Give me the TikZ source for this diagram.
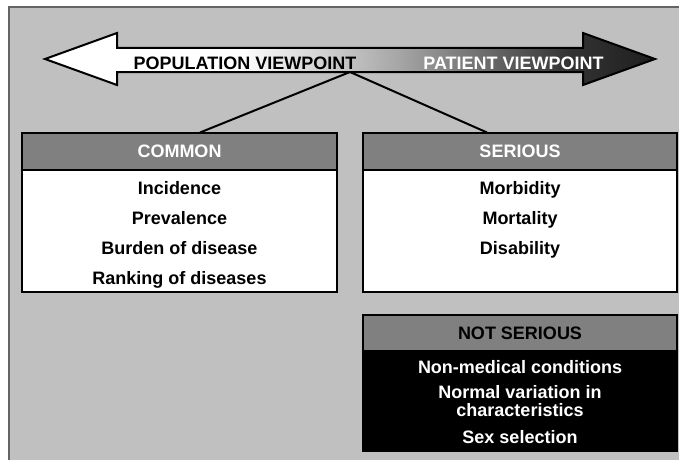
\documentclass[tikz,border=0pt]{standalone}
\usepackage{fontspec}
\setmainfont{Liberation Sans}
\definecolor{FrameGray}{RGB}{192,192,192}
\definecolor{EdgeGray}{RGB}{100,100,100}
\definecolor{HdrGray}{RGB}{128,128,128}
\usetikzlibrary{
    positioning,
    calc,
}
\pgfdeclarehorizontalshading{viewshade}{100bp}{color(0bp)=(white); color(25bp)=(white); color(41bp)=(white); color(54bp)=(black!35); color(68bp)=(black!80); color(75bp)=(black!88); color(100bp)=(black!88)}
\tikzset{
    hdr/.style={draw, line width=2pt, fill=HdrGray, minimum height=37pt, inner sep=0pt, outer sep=0pt, font=\fontsize{18}{18}\selectfont\bfseries},
    bodybox/.style={draw, line width=2pt, inner sep=0pt, outer sep=0pt},
    item/.style={anchor=base, inner sep=0pt, font=\fontsize{18}{18}\selectfont\bfseries, align=center},
    link/.style={line width=2pt},
}

\begin{document}
\begin{tikzpicture}[x=1pt, y=-1pt]
        \useasboundingbox (0,0) rectangle (679,460);
        % frame
        \fill[FrameGray] (9,7) rectangle (679,460);
        \draw[EdgeGray, line width=2pt] (9,460) -- (9,7) -- (679,7);
        % viewpoint arrow
        \shadedraw[shading=viewshade, line width=2pt, line join=miter]
            (45,59) -- (117,33) -- (117,48) -- (583,48) -- (583,33) -- (655,59)
            -- (583,85) -- (583,72) -- (117,72) -- (117,85) -- cycle;
        \node[item] (popview) at (245,70) {POPULATION VIEWPOINT};
        \node[item, text=white] (patview) at (513.5,70) {PATIENT VIEWPOINT};
        \coordinate (apex) at (350,72);
        % boxes
        \node[hdr, minimum width=315pt, text=white] (common) at (179.5,151) {COMMON};
        \node[bodybox, minimum width=315pt, minimum height=122pt, fill=white, below=0pt of common] (commonbody) {};
        \node[hdr, minimum width=314pt, text=white] (serious) at (520,151) {SERIOUS};
        \node[bodybox, minimum width=314pt, minimum height=122pt, fill=white, below=0pt of serious] (seriousbody) {};
        \node[hdr, minimum width=314pt, minimum height=36pt] (notserious) at (520,333) {NOT SERIOUS};
        \node[bodybox, minimum width=314pt, minimum height=100pt, fill=black, below=0pt of notserious] (notseriousbody) {};
        % items
        \foreach \i/\lab in {0/Incidence, 1/Prevalence, 2/Burden of disease, 3/Ranking of diseases} {
            \node[item] (common-\i) at (179.5,194.5+30*\i) {\lab};
        }
        \foreach \i/\lab in {0/Morbidity, 1/Mortality, 2/Disability} {
            \node[item] (serious-\i) at (520,194.5+30*\i) {\lab};
        }
        \node[item, text=white] (notserious-0) at (520,373) {Non-medical conditions};
        \node[item, text=white, anchor=center, font=\fontsize{18}{18}\selectfont\bfseries] (notserious-1) at (520,401.5) {Normal variation in\\characteristics};
        \node[item, text=white] (notserious-2) at (520,443) {Sex selection};
        % links
        \draw[link] (apex) -- ([xshift=20.5pt]common.north);
        \draw[link] (apex) -- ([xshift=-33pt]serious.north);
    \end{tikzpicture}
\end{document}
